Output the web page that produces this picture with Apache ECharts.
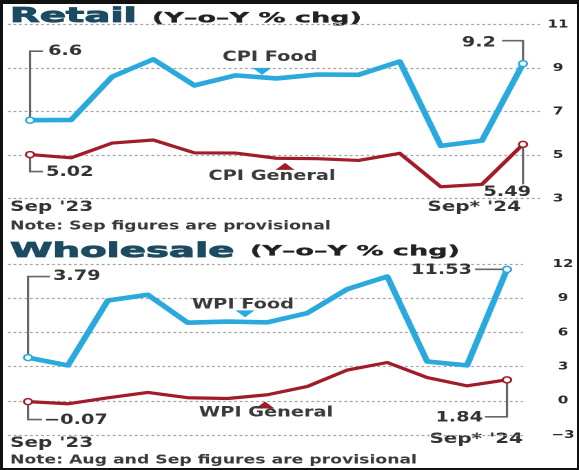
<!DOCTYPE html>
<html>
<head>
<meta charset="utf-8">
<title>Retail and wholesale inflation</title>
<script src="https://cdn.jsdelivr.net/npm/echarts@6.0.0/dist/echarts.min.js"></script>
<style>
  html, body { margin: 0; padding: 0; background: #fff; }
  body { position: relative; width: 579px; height: 470px; overflow: hidden; }
  /* the chart is drawn narrow and widened, giving the broad lettering of the print graphic */
  #chart { position: absolute; left: 0; top: 0; width: 420px; height: 470px;
           transform: scaleX(1.378571); transform-origin: 0 0; }
  #frame { position: absolute; left: 0; top: 0; width: 579px; height: 470px; box-sizing: border-box;
           border-style: solid; border-color: #111; border-width: 4px 2px 2px 3px; pointer-events: none; }
</style>
</head>
<body>
<div id="chart"></div>
<div id="frame"></div>
<script>
// Year-on-year inflation, Sep 2023 to Sep 2024 (per cent)
const months = ["Sep '23", "Oct '23", "Nov '23", "Dec '23", "Jan '24", "Feb '24", "Mar '24",
                "Apr '24", "May '24", "Jun '24", "Jul '24", "Aug '24", "Sep* '24"];
const cpiFood    = [6.6, 6.61, 8.6, 9.4, 8.2, 8.66, 8.52, 8.7, 8.69, 9.3, 5.42, 5.66, 9.2];
const cpiGeneral = [5.02, 4.87, 5.55, 5.69, 5.1, 5.09, 4.85, 4.83, 4.75, 5.08, 3.54, 3.65, 5.49];
const wpiFood    = [3.79, 3.1, 8.8, 9.3, 6.85, 6.95, 6.88, 7.7, 9.8, 10.9, 3.45, 3.11, 11.53];
const wpiGeneral = [-0.07, -0.26, 0.26, 0.73, 0.27, 0.2, 0.53, 1.26, 2.7, 3.36, 2.04, 1.31, 1.84];
const retailTicks    = [3, 5, 7, 9, 11];
const wholesaleTicks = [-3, 0, 3, 6, 9, 12];

const SX = 579 / 420;            // horizontal widening applied to the canvas
const hx = v => v / SX;          // page pixels -> canvas pixels (horizontal)
const BLUE = '#29a9dc', RED = '#a01c2b', INK = '#333', LEAD = '#666', TITLE = '#1c4a60';
const GRIDLINE = '#a2a2a2';
const FONT = '"DejaVu Sans", "Liberation Sans", sans-serif';

const fmt = v => (v < 0 ? '\u2212' + Math.abs(v) : String(v));
function valueAt(arr, t) {
  const i = Math.min(Math.floor(t), arr.length - 2), f = t - i;
  return arr[i] + (arr[i + 1] - arr[i]) * f;
}

// panel layout in page pixels: gridline span, first/last month position, vertical extent
const panels = [
  { g0: 8, g1: 540, x0: 30, x1: 523, top: 24.5, bottom: 198.5, labelX: 558, ticks: retailTicks },
  { g0: 8, g1: 523, x0: 28, x1: 507, top: 264, bottom: 435, labelX: 563, ticks: wholesaleTicks }
];

const grids = [], xAxes = [], yAxes = [];
panels.forEach((p, gi) => {
  const n = months.length - 1;
  const unit = (p.x1 - p.x0) / n;
  grids.push({ left: hx(p.g0), right: 420 - hx(p.g1), top: p.top, height: p.bottom - p.top,
               containLabel: false, outerBoundsMode: 'none' });
  xAxes.push({ gridIndex: gi, type: 'value', show: false,
               min: -(p.x0 - p.g0) / unit, max: n + (p.g1 - p.x1) / unit });
  yAxes.push({
    gridIndex: gi, type: 'value', position: 'right',
    min: p.ticks[0], max: p.ticks[p.ticks.length - 1], interval: p.ticks[1] - p.ticks[0],
    axisLine: { show: false }, axisTick: { show: false },
    axisLabel: { margin: hx(p.labelX - p.g1), align: 'center', color: '#2a2a2a',
                 fontFamily: FONT, fontSize: 11, fontWeight: 'bold', formatter: fmt },
    splitLine: { show: true, lineStyle: { color: GRIDLINE, width: 1.2, type: [2, 2], opacity: 1 } },
    z: 1
  });
});

function lineSeries(name, values, color, width, gi) {
  const last = values.length - 1;
  return {
    type: 'line', name, xAxisIndex: gi, yAxisIndex: gi, z: 3, silent: true,
    data: values.map((v, i) => [i, v]),
    lineStyle: { color, width, join: 'round', cap: 'round' },
    symbol: 'circle', showAllSymbol: true,
    symbolSize: (v, prm) => (prm.dataIndex === 0 || prm.dataIndex === last ? 6 : 0),
    itemStyle: { color: '#fff', borderColor: color, borderWidth: 1.5 },
    emphasis: { disabled: true }
  };
}

// leader brackets for the first and latest readings (offsets in page pixels)
const retailCallouts = [
  { values: cpiFood,    i: 0,  path: [[0, 0], [0, -69], [13, -69]], label: [18, -69], align: 'left' },
  { values: cpiGeneral, i: 0,  path: [[0, 0], [0, 17], [13, 17]],   label: [16, 18],  align: 'left' },
  { values: cpiFood,    i: 12, path: [[0, 0], [0, -23], [-21, -23]], label: [-27, -21], align: 'right' },
  { values: cpiGeneral, i: 12, path: [[0, 0], [0, 40]],             label: [8, 48],   align: 'right' }
];
const wholesaleCallouts = [
  { values: wpiFood,    i: 0,  path: [[0, 0], [0, -81], [22, -81]], label: [25, -81], align: 'left' },
  { values: wpiGeneral, i: 0,  path: [[0, 0], [0, 18], [14, 18]],   label: [16, 19],  align: 'left' },
  { values: wpiFood,    i: 12, path: [[0, 0], [-32, 0]],            label: [-35, 1],  align: 'right' },
  { values: wpiGeneral, i: 12, path: [[0, 0], [0, 37], [-22, 37]],  label: [-24, 38], align: 'right' }
];

// series names set on the lines, with a pointer triangle
const retailNames = [
  { values: cpiFood,    t: 5.647, dir: 'down', triDy: -6, text: 'CPI Food',    dx: 8,   dy: -20, color: BLUE },
  { values: cpiGeneral, t: 6.207, dir: 'up',   triDy: 8,  text: 'CPI General', dx: -13, dy: 18,  color: RED }
];
const wholesaleNames = [
  { values: wpiFood,    t: 5.436, dir: 'down', triDy: -8, text: 'WPI Food',    dx: -2,  dy: -17, color: BLUE },
  { values: wpiGeneral, t: 5.937, dir: 'up',   triDy: 10, text: 'WPI General', dx: 1,   dy: 18,  color: RED }
];

function calloutSeries(gi, callouts) {
  return {
    type: 'custom', xAxisIndex: gi, yAxisIndex: gi, clip: false, silent: true, z: 2,
    data: callouts.map(c => [c.i, c.values[c.i]]),
    renderItem(params, api) {
      const c = callouts[params.dataIndex];
      const p = api.coord([api.value(0), api.value(1)]);
      return {
        type: 'group', children: [
          { type: 'polyline', shape: { points: c.path.map(([dx, dy]) => [p[0] + hx(dx), p[1] + dy]) },
            style: { stroke: LEAD, lineWidth: 1.6, fill: null } },
          { type: 'text', x: p[0] + hx(c.label[0]), y: p[1] + c.label[1],
            style: { text: fmt(api.value(1)), font: 'bold 14px ' + FONT, fill: INK,
                     align: c.align, verticalAlign: 'middle' } }
        ]
      };
    }
  };
}

function nameSeries(gi, names) {
  return {
    type: 'custom', xAxisIndex: gi, yAxisIndex: gi, clip: false, silent: true, z: 4,
    data: names.map(n => [n.t, valueAt(n.values, n.t)]),
    renderItem(params, api) {
      const n = names[params.dataIndex];
      const p = api.coord([api.value(0), api.value(1)]);
      const cx = p[0], cy = p[1] + n.triDy, w = hx(19), h = 7;
      const tri = n.dir === 'down'
        ? [[cx - w / 2, cy - h / 2], [cx + w / 2, cy - h / 2], [cx, cy + h / 2]]
        : [[cx - w / 2, cy + h / 2], [cx + w / 2, cy + h / 2], [cx, cy - h / 2]];
      return {
        type: 'group', children: [
          { type: 'polygon', shape: { points: tri }, style: { fill: n.color } },
          { type: 'text', x: cx + hx(n.dx), y: p[1] + n.dy,
            style: { text: n.text, font: 'bold 14px ' + FONT, fill: '#3a3a3a',
                     align: 'center', verticalAlign: 'middle' } }
        ]
      };
    }
  };
}

function txt(text, x, y, font, fill, align) {
  return { type: 'text', x: hx(x), y, silent: true,
    style: { text, font: font + ' ' + FONT, fill, align: align || 'left', verticalAlign: 'middle' } };
}

function headline(text, x, y, size, fill) {
  return { type: 'text', x: hx(x), y, scaleX: 1.4, silent: true,
    style: { text, font: 'bold ' + size + 'px ' + FONT, fill, stroke: fill, lineWidth: size > 16 ? 0.8 : 0.3,
             align: 'left', verticalAlign: 'middle' } };
}

const chart = echarts.init(document.getElementById('chart'), null, { renderer: 'canvas', devicePixelRatio: 2 });
chart.setOption({
  animation: false,
  backgroundColor: '#fff',
  grid: grids,
  xAxis: xAxes,
  yAxis: yAxes,
  series: [
    lineSeries('CPI Food', cpiFood, BLUE, 4.6, 0),
    lineSeries('CPI General', cpiGeneral, RED, 3.2, 0),
    lineSeries('WPI Food', wpiFood, BLUE, 4.6, 1),
    lineSeries('WPI General', wpiGeneral, RED, 3.2, 1),
    calloutSeries(0, retailCallouts),
    calloutSeries(1, wholesaleCallouts),
    nameSeries(0, retailNames),
    nameSeries(1, wholesaleNames)
  ],
  graphic: [
    headline('Retail', 10, 17, 20, TITLE),
    headline('(Y\u2013o\u2013Y % chg)', 152, 19, 14, '#222'),
    headline('Wholesale', 10, 252, 20, TITLE),
    headline('(Y\u2013o\u2013Y % chg)', 250, 252, 14, '#222'),
    txt(months[0], 10, 207, 'bold 14.5px', INK),
    txt(months[months.length - 1], 521, 207, 'bold 14.5px', INK, 'right'),
    txt(months[0], 10, 443, 'bold 14.5px', INK),
    txt(months[months.length - 1], 523, 439, 'bold 14.5px', INK, 'right'),
    txt('Note: Sep figures are provisional', 10, 226, 'bold 12.5px', '#3a3a3a'),
    txt('Note: Aug and Sep figures are provisional', 10, 460, 'bold 12.5px', '#3a3a3a')
  ]
});
</script>
</body>
</html>
